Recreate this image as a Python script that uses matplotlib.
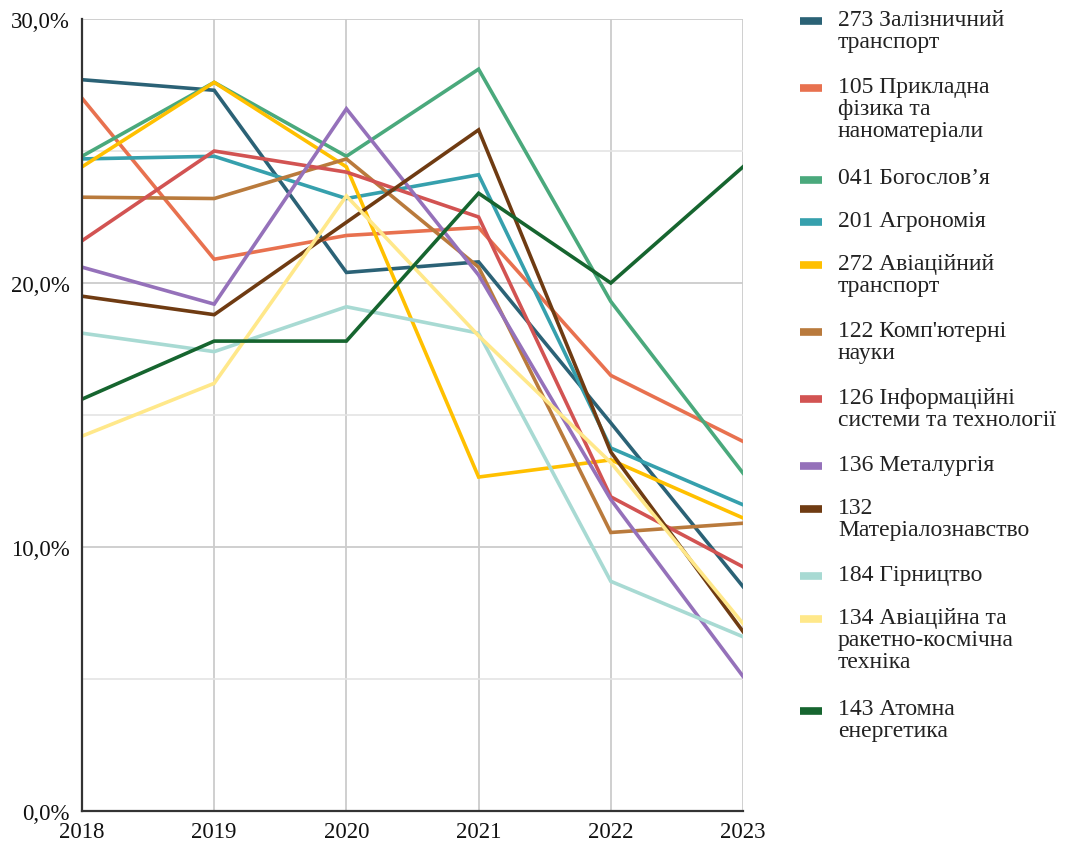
import matplotlib
matplotlib.use("Agg")
import matplotlib.pyplot as plt
from matplotlib.ticker import FuncFormatter, MultipleLocator
from matplotlib.lines import Line2D

years = [2018, 2019, 2020, 2021, 2022, 2023]

labels = [
    "273 Залізничний\nтранспорт",
    "105 Прикладна\nфізика та\nнаноматеріали",
    "041 Богослов\u2019я",
    "201 Агрономія",
    "272 Авіаційний\nтранспорт",
    "122 Комп'ютерні\nнауки",
    "126 Інформаційні\nсистеми та технології",
    "136 Металургія",
    "132\nМатеріалознавство",
    "184 Гірництво",
    "134 Авіаційна та\nракетно-космічна\nтехніка",
    "143 Атомна\nенергетика",
]

s273 = [27.7, 27.3, 20.4, 20.8, 14.7, 8.5]
s105 = [27.0, 20.9, 21.8, 22.1, 16.5, 14.0]
s041 = [24.8, 27.6, 24.8, 28.1, 19.3, 12.8]
s201 = [24.7, 24.8, 23.2, 24.1, 13.75, 11.6]
s272 = [24.4, 27.6, 24.4, 12.65, 13.3, 11.1]
s122 = [23.25, 23.2, 24.7, 20.6, 10.55, 10.9]
s126 = [21.6, 25.0, 24.2, 22.5, 11.9, 9.25]
s136 = [20.6, 19.2, 26.6, 20.3, 11.8, 5.1]
s132 = [19.5, 18.8, 22.3, 25.8, 13.6, 6.8]
s184 = [18.1, 17.4, 19.1, 18.1, 8.7, 6.6]
s134 = [14.2, 16.2, 23.3, 18.0, 13.2, 7.1]
s143 = [15.6, 17.8, 17.8, 23.4, 20.0, 24.4]

series = [s273, s105, s041, s201, s272, s122, s126, s136, s132, s184, s134, s143]
colors = ["#2b6276", "#e8714f", "#4aa97c", "#36a0ad", "#ffc000", "#b97a3c",
          "#d25352", "#9571ba", "#6f3b12", "#a8dad3", "#ffe88a", "#16652f"]

plt.rcParams['font.family'] = ['Liberation Serif', 'DejaVu Serif']

W, H = 1065, 845
fig = plt.figure(figsize=(W/100, H/100), dpi=100)
ax = fig.add_axes([82/W, 33/H, (743-82)/W, (812-20)/H])

for v, c, l in zip(series, colors, labels):
    ax.plot(years, v, color=c, lw=2.6, label=l, solid_joinstyle='miter')

ax.set_xlim(2018, 2023)
ax.set_ylim(0, 30)
ax.yaxis.set_major_locator(MultipleLocator(10))
ax.yaxis.set_minor_locator(MultipleLocator(5))
ax.set_xticks(years)
ax.yaxis.set_major_formatter(FuncFormatter(lambda y, p: f"{y:.1f}%".replace('.', ',')))
ax.grid(True, which='major', axis='both', color='#cccccc', lw=1.3)
ax.grid(True, which='minor', axis='y', color='#e4e4e4', lw=1.2)
ax.set_axisbelow(True)
for s in ['top', 'right']:
    ax.spines[s].set_visible(False)
for s in ['left', 'bottom']:
    ax.spines[s].set_color('#333333')
    ax.spines[s].set_linewidth(1.6)
ax.tick_params(axis='both', which='both', length=0, labelsize=16.5, colors='#111111')
ax.tick_params(axis='y', pad=9)
ax.tick_params(axis='x', pad=7)

# manual legend: handle aligned with first line of each label
line_h = 24.3
gap = 18.5
y = 22.0
for c, l in zip(colors, labels):
    n = l.count("\n") + 1
    fig.add_artist(Line2D([800/W, 822/W], [1 - y/H, 1 - y/H], color=c, lw=5.5,
                          transform=fig.transFigure, solid_capstyle='butt'))
    fig.text(838/W, 1 - (y - 12.5)/H, l, ha='left', va='top', fontsize=17,
             color='#222222', linespacing=1.08)
    y += n * line_h + gap

fig.savefig("out.png", dpi=100)
